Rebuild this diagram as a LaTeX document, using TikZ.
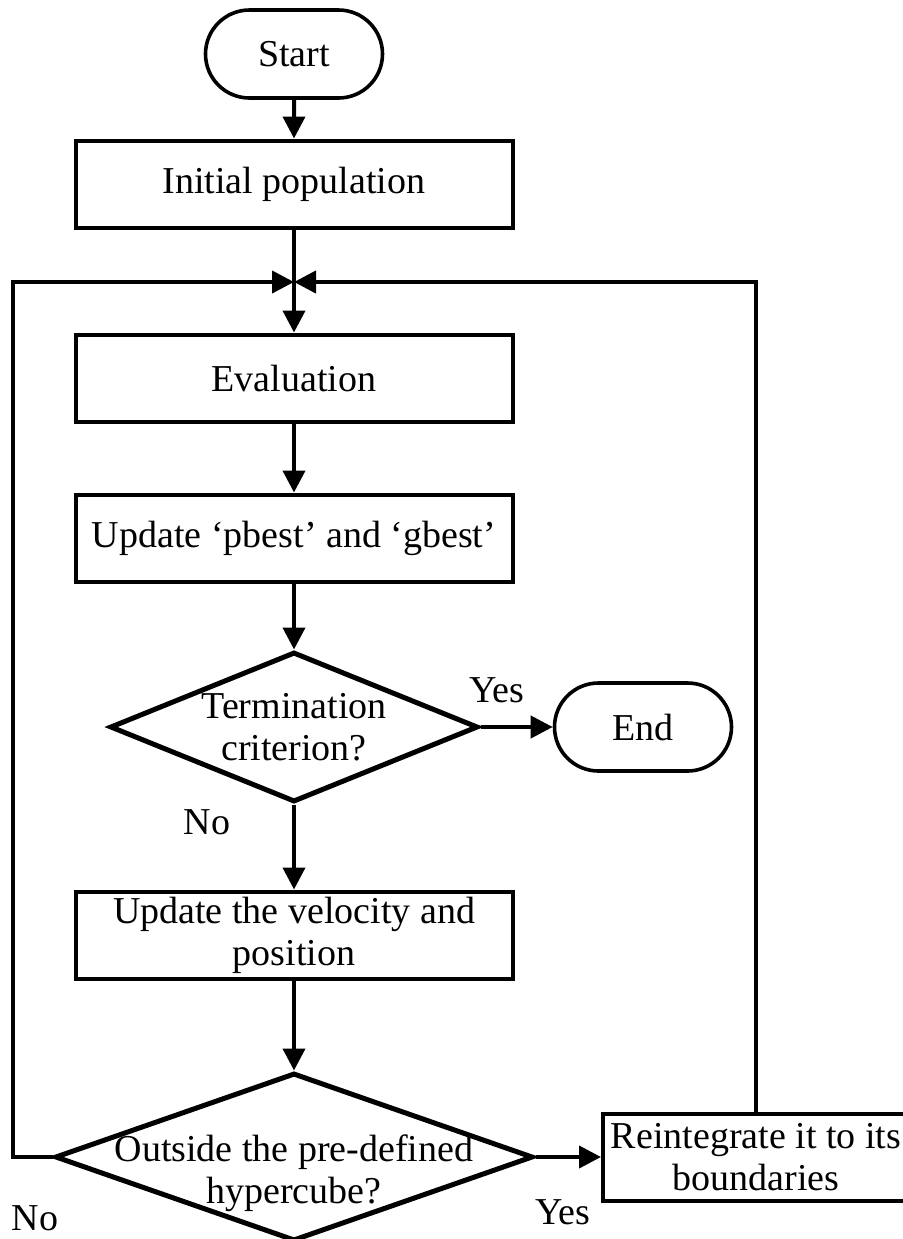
\documentclass[tikz,border=0pt]{standalone}
\usepackage{fontspec}
\setmainfont{Liberation Serif}
\usetikzlibrary{arrows.meta,shapes.geometric,shapes.misc}

\begin{document}
\begin{tikzpicture}[x=0.5pt,y=-0.5pt,
every node/.style={font=\fontsize{19pt}{21pt}\selectfont},
terminal/.style={rounded rectangle,draw,line width=1.8pt,minimum width=88.5pt,minimum height=44pt,inner sep=0pt},
proc/.style={rectangle,draw,line width=2pt,minimum width=218.5pt,minimum height=43.5pt,inner sep=0pt,align=center},
decide/.style={diamond,draw,line width=2.5pt,inner sep=0pt},
flow/.style={line width=2pt,-{Triangle[length=11pt,width=11pt]}},
link/.style={line width=2pt}]
\useasboundingbox (0,0) rectangle (903,1239);
\clip (0,0) rectangle (903,1239);
\node[terminal] (start) at (294,54) {Start};
\node[proc] (init) at (294,184) {Initial population};
\coordinate (join) at (294,282);
\node[proc] (eval) at (294,378) {Evaluation};
\node[proc] (upd) at (294,538) {Update `pbest' and `gbest'};
\node[decide,minimum width=184pt,minimum height=75pt] (crit) at (294,727) {};
\node[align=center] (crit-txt) at (crit) {Termination\\criterion?};
\node[terminal] (end) at (643,727) {End};
\node[proc] (vel) at (294,935) {Update the velocity and\\position};
\node[decide,minimum width=239pt,minimum height=84pt] (cube) at (294,1157) {};
\node[align=center] (cube-txt) at (294,1173) {Outside the pre-defined\\hypercube?};
\node[proc,minimum width=153pt] (reint) at (756,1157) {Reintegrate it to its\\boundaries};
\coordinate (loopL) at (13,282);
% branch labels
\node (yes1) at (497,690) {Yes};
\node (no1) at (207,822) {No};
\node (yes2) at (563,1212) {Yes};
\node (no2) at (35,1218) {No};
\draw[flow] (start)--(init);
\draw[link] (init)--(join);
\draw[flow] (join)--(eval);
\draw[flow] (eval)--(upd);
\draw[flow] (upd)--(crit);
\draw[flow] (crit)--(end);
\draw[flow] (crit)--(vel);
\draw[flow] (vel)--(cube);
\draw[flow] (cube)--(reint);
\draw[flow] (cube.west) -| (loopL) -- (join);
\draw[flow] (reint.north) |- (join);
\end{tikzpicture}
\end{document}
